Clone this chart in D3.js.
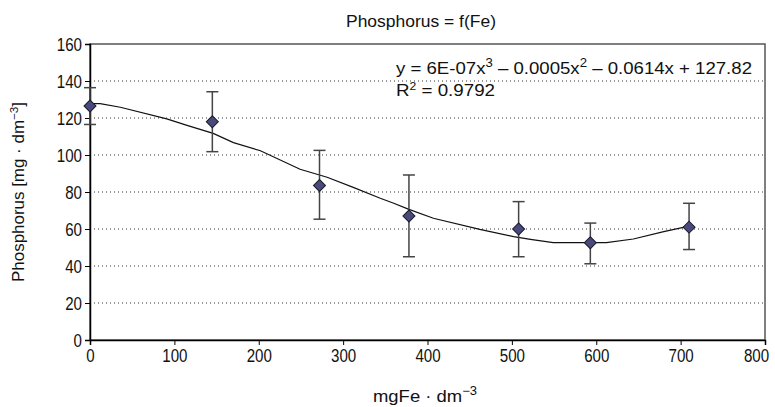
<!DOCTYPE html>
<html>
<head>
<meta charset="utf-8">
<script src="https://cdn.jsdelivr.net/npm/d3@7"></script>
<style>
  body { margin: 0; background: #fff; }
  svg text { font-family: "Liberation Sans", Arial, sans-serif; fill: #111; }
</style>
</head>
<body>
<svg id="chart"></svg>
<script>
// measured points (Fe dose, phosphorus, error bar low/high)
const feDose = [0, 145, 272, 378, 508, 593, 710];
const phosphorus = [126.5, 118, 83.5, 67, 60, 52.6, 61];
const errLow = [116.5, 101.8, 65.3, 45, 45, 41.2, 48.9];
const errHigh = [136.4, 134.2, 102.5, 89.2, 74.8, 63.2, 73.9];

// polynomial trendline
const trendX = [0, 12, 36, 91, 115, 146, 170, 202, 249, 281, 312, 344, 360, 378, 407, 462, 502, 522, 549, 612, 644, 680, 710];
const trendY = [127.8, 127.8, 125.8, 119.5, 116, 111.7, 106.7, 102.3, 92.3, 88, 82.5, 76.6, 73.9, 70.6, 65.8, 59.8, 55.9, 54.4, 52.6, 52.6, 54.6, 58.6, 61.6];

const xTicks = [0, 100, 200, 300, 400, 500, 600, 700, 800];
const yTicks = [0, 20, 40, 60, 80, 100, 120, 140, 160];

const width = 775;
const height = 407;
const margin = { top: 44, right: 10, bottom: 67, left: 90 };

const svg = d3.select("#chart")
    .attr("width", width)
    .attr("height", height);

const x = d3.scaleLinear().domain([0, 800]).range([margin.left, width - margin.right]);
const y = d3.scaleLinear().domain([0, 160]).range([height - margin.bottom, margin.top]);

// gridlines
svg.append("g")
    .selectAll("line")
    .data(yTicks.filter(d => d > 0 && d < 160))
    .enter().append("line")
    .attr("x1", x(0)).attr("x2", x(800))
    .attr("y1", d => y(d)).attr("y2", d => y(d))
    .attr("stroke", "#333")
    .attr("stroke-width", 1)
    .attr("stroke-dasharray", "1,3");

// plot frame
svg.append("rect")
    .attr("x", x(0)).attr("y", y(160))
    .attr("width", x(800) - x(0)).attr("height", y(0) - y(160))
    .attr("fill", "none")
    .attr("stroke", "#555")
    .attr("stroke-width", 1.5);

// axes
const xAxis = svg.append("g")
    .attr("transform", `translate(0,${y(0)})`)
    .call(d3.axisBottom(x).tickValues(xTicks).tickSize(5).tickPadding(4));
const yAxis = svg.append("g")
    .attr("transform", `translate(${x(0)},0)`)
    .call(d3.axisLeft(y).tickValues(yTicks).tickSize(5).tickPadding(3));

[xAxis, yAxis].forEach(a => {
    a.select(".domain").attr("stroke", "#000").attr("stroke-width", 1.5);
    a.selectAll(".tick line").attr("stroke", "#000");
    a.selectAll(".tick text")
        .style("font-family", "'Liberation Sans', Arial, sans-serif")
        .style("font-size", "19px")
        .attr("fill", "#111")
        .attr("textLength", d => String(d).length * 8.4)
        .attr("lengthAdjust", "spacingAndGlyphs");
});
// keep the last x label inside the picture
xAxis.selectAll(".tick text").filter(d => d === 800)
    .style("font-size", "18px")
    .attr("x", -9);

// trendline
const line = d3.line()
    .x((d, i) => x(trendX[i]))
    .y(d => y(d));

svg.append("path")
    .datum(trendY)
    .attr("d", line)
    .attr("fill", "none")
    .attr("stroke", "#111")
    .attr("stroke-width", 1.2);

// error bars
const points = feDose.map((d, i) => ({ fe: d, p: phosphorus[i], lo: errLow[i], hi: errHigh[i] }));

const err = svg.append("g")
    .attr("stroke", "#444")
    .attr("stroke-width", 1.5);

err.selectAll(".stem")
    .data(points)
    .enter().append("line")
    .attr("x1", d => x(d.fe)).attr("x2", d => x(d.fe))
    .attr("y1", d => y(d.lo)).attr("y2", d => y(d.hi));

err.selectAll(".capHi")
    .data(points)
    .enter().append("line")
    .attr("x1", d => x(d.fe) - 6).attr("x2", d => x(d.fe) + 6)
    .attr("y1", d => y(d.hi)).attr("y2", d => y(d.hi));

err.selectAll(".capLo")
    .data(points)
    .enter().append("line")
    .attr("x1", d => x(d.fe) - 6).attr("x2", d => x(d.fe) + 6)
    .attr("y1", d => y(d.lo)).attr("y2", d => y(d.lo));

// diamond markers
const diamond = d3.symbol().type(d3.symbolSquare).size(72);

svg.append("g")
    .selectAll("path")
    .data(points)
    .enter().append("path")
    .attr("d", diamond)
    .attr("transform", d => `translate(${x(d.fe)},${y(d.p)}) rotate(45)`)
    .attr("fill", "#4a4a7a")
    .attr("stroke", "#1a1a2e")
    .attr("stroke-width", 1);

// title
svg.append("text")
    .attr("x", 421)
    .attr("y", 27)
    .attr("text-anchor", "middle")
    .attr("textLength", 150)
    .attr("lengthAdjust", "spacingAndGlyphs")
    .style("font-size", "17px")
    .text("Phosphorus = f(Fe)");

// trendline equation
const eq = svg.append("text")
    .attr("x", 396)
    .attr("y", 74)
    .attr("textLength", 356)
    .attr("lengthAdjust", "spacingAndGlyphs")
    .style("font-size", "17px");
eq.append("tspan").text("y = 6E-07x");
eq.append("tspan").attr("dy", -7).style("font-size", "12px").text("3");
eq.append("tspan").attr("dy", 7).text(" – 0.0005x");
eq.append("tspan").attr("dy", -7).style("font-size", "12px").text("2");
eq.append("tspan").attr("dy", 7).text(" – 0.0614x + 127.82");

const r2 = svg.append("text")
    .attr("x", 396)
    .attr("y", 96)
    .attr("textLength", 99)
    .attr("lengthAdjust", "spacingAndGlyphs")
    .style("font-size", "17px");
r2.append("tspan").text("R");
r2.append("tspan").attr("dy", -6).style("font-size", "11px").text("2");
r2.append("tspan").attr("dy", 6).text(" = 0.9792");

// axis titles
const xt = svg.append("text")
    .attr("x", 425)
    .attr("y", 402)
    .attr("text-anchor", "middle")
    .attr("textLength", 104)
    .attr("lengthAdjust", "spacingAndGlyphs")
    .style("font-size", "17px");
xt.append("tspan").text("mgFe · dm");
xt.append("tspan").attr("dy", -7).style("font-size", "12px").text("−3");

const yt = svg.append("text")
    .attr("transform", "translate(24,192) rotate(-90)")
    .attr("text-anchor", "middle")
    .attr("textLength", 180)
    .attr("lengthAdjust", "spacingAndGlyphs")
    .style("font-size", "16px");
yt.append("tspan").text("Phosphorus [mg · dm");
yt.append("tspan").attr("dy", -6).style("font-size", "11px").text("−3");
yt.append("tspan").attr("dy", 6).text("]");
</script>
</body>
</html>
